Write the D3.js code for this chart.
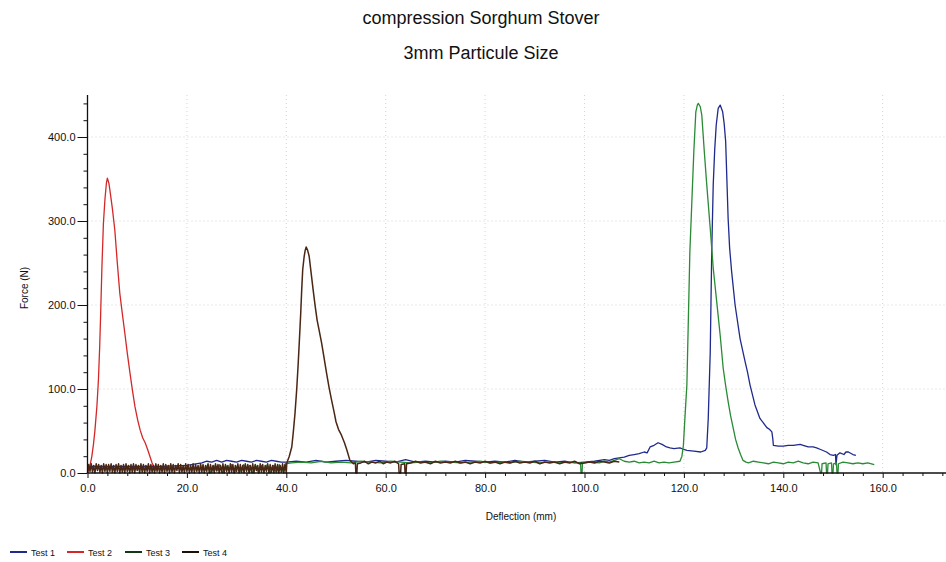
<!DOCTYPE html>
<html><head><meta charset="utf-8">
<script src="https://cdn.jsdelivr.net/npm/d3@7"></script>
<style>
html,body{margin:0;padding:0;background:#fff;}
svg{display:block;font-family:"Liberation Sans",Arial,sans-serif;}
</style></head>
<body>
<svg id="chart" width="946" height="562"></svg>
<script>
const titleLines = ["compression Sorghum Stover", "3mm Particule Size"];
const xLabel = "Deflection (mm)";
const yLabel = "Force (N)";
const seriesNames = ["Test 1", "Test 2", "Test 3", "Test 4"];
const xMajorTicks = [0, 20, 40, 60, 80, 100, 120, 140, 160];
const yMajorTicks = [0, 100, 200, 300, 400];

// Test 1 (deflection mm, force N)
const test1 = [[0,8],[5,8],[10,8],[15,8],[20,9],[23,12],[24,14],[25,13],[26,15],[27,13],[28,15],[29,14],[30,13],[31,15],[32,14],[33,13],[34,15],[35,14],[36,13],[37,15],[38,14],[39,13],[40,13],[42,14],[44,13],[46,15],[48,13],[50,14],[52,15],[54,14],[56,13],[58,15],[60,14],[62,13],[64,16],[66,13],[68,14],[70,13],[72,14],[74,13],[76,15],[78,14],[80,13],[82,14],[84,13],[86,15],[88,13],[90,14],[92,15],[94,13],[96,14],[98,12],[100,13],[102,14],[103,15],[104,16],[105,15],[106,17],[107,18],[108,19],[109,21],[110,22],[111,23],[112,25],[112.6,24],[113.2,31],[114,33],[114.8,36],[115.6,34],[116.5,31],[117.2,30],[118,29],[119.2,30],[120,28],[120.6,27],[122,26],[123.4,25],[124.3,27],[124.6,30],[124.9,65],[125.3,144],[125.6,263],[125.9,343],[126.2,385],[126.5,414],[126.9,434],[127.3,438],[127.8,430],[128.1,416],[128.4,395],[128.7,340],[128.9,303],[129.2,268],[129.6,240],[130.3,200],[131.3,160],[132.3,133],[132.8,120],[133.3,105],[134.3,81],[135.3,65],[136.7,54],[137.2,52],[137.7,49],[137.9,40],[138.0,33],[139,32],[140,32],[141,33],[142,33],[143.4,34],[144,33],[145,31],[146,31],[146.7,30],[147.5,28],[148.7,25],[149.4,22],[150.1,21],[150.5,22],[150.6,10],[150.8,21],[151.4,24],[152.2,22],[152.6,25],[153.1,25],[154,22],[154.6,21]];

// Test 2
const test2 = [[0,0],[0.4,6],[0.85,19],[1.2,34],[1.5,51],[1.9,80],[2.2,111],[2.45,150],[2.65,190],[2.9,245],[3.2,297],[3.5,325],[3.8,345],[4.0,351],[4.3,345],[4.5,337],[5.0,315],[5.5,289],[6.0,250],[6.5,214],[7.0,190],[7.5,167],[8.0,143],[8.55,119],[9.05,98],[9.55,79],[10.1,63],[10.6,51],[11.1,42],[11.6,36],[12.1,28],[12.6,19],[13.0,12],[13.4,7],[13.7,3]];

// Test 3
const test3 = [[23,9],[23.6,3],[24.2,10],[24.8,0],[25.4,9],[26,2],[26.6,10],[27.2,0],[27.8,9],[28.4,3],[29,10],[29.6,0],[30.2,9],[30.8,2],[31.4,10],[32,4],[32.6,9],[33.2,0],[33.8,10],[34.4,0],[35,9],[35.6,3],[36.2,10],[36.8,0],[37.4,9],[38,0],[38.6,10],[39.2,2],[39.8,11],[41,12],[43,13],[45,12],[47,14],[49,12],[51,13],[53,12],[55,14],[57,13],[59,12],[61,14],[63,13],[65,12],[67,13],[69,12],[71,14],[73,13],[75,12],[77,13],[79,14],[81,12],[83,13],[85,12],[87,14],[89,13],[91,12],[93,13],[95,12],[97,13],[99.2,12],[99.3,0],[99.5,0],[99.6,12],[101,13],[103,12],[104,14],[105,13],[106,15],[107,17],[108,14],[109,13],[110,14],[111,12],[112,13],[113,12],[114,14],[115,12],[116,13],[117,12],[118,13],[119.2,14],[119.6,20],[119.9,33],[120.2,65],[120.6,105],[120.9,184],[121.2,263],[121.6,323],[122.0,383],[122.4,430],[122.7,438],[122.9,440],[123.3,436],[123.6,426],[124.1,383],[124.6,343],[125.3,291],[125.9,244],[126.6,204],[127.3,164],[127.9,125],[128.4,104],[128.9,85],[129.4,68],[129.9,54],[130.4,40],[130.9,30],[131.4,22],[131.9,15],[132.5,13],[133,12],[134,14],[135,13],[136,12],[137,11],[138,13],[139,12],[140,11],[141,13],[142,12],[143,14],[144,12],[145,11],[146,13],[147,12],[147.5,0],[147.7,0],[147.8,11],[148.6,12],[148.7,0],[148.9,0],[149,11],[149.7,12],[149.8,0],[150,0],[150.1,11],[150.7,12],[150.8,0],[151,0],[151.1,11],[152,13],[153,12],[154,11],[155,12],[156,11],[157,12],[158.3,10]];

// Test 4
const test4 = [[0,0],[0.25,10],[0.5,2],[0.75,11],[1,1],[1.25,9],[1.5,0],[1.75,11],[2,3],[2.25,10],[2.5,1],[2.75,9],[3,0],[3.25,11],[3.5,2],[3.75,10],
[4,0],[4.25,10],[4.5,2],[4.75,11],[5,1],[5.25,9],[5.5,0],[5.75,10],[6,2],[6.25,11],[6.5,0],[6.75,9],[7,1],[7.25,10],[7.5,0],[7.75,11],
[8,2],[8.25,9],[8.5,0],[8.75,10],[9,1],[9.25,11],[9.5,0],[9.75,10],[10,3],[10.25,9],[10.5,0],[10.75,11],[11,1],[11.25,10],[11.5,0],[11.75,9],
[12,2],[12.25,11],[12.5,0],[12.75,10],[13,1],[13.25,9],[13.5,0],[13.75,11],[14,2],[14.25,10],[14.5,0],[14.75,9],[15,1],[15.25,11],[15.5,0],[15.75,10],
[16,2],[16.25,9],[16.5,0],[16.75,11],[17,1],[17.25,10],[17.5,0],[17.75,9],[18,3],[18.25,11],[18.5,0],[18.75,10],[19,1],[19.25,9],[19.5,0],[19.75,11],
[20,2],[20.25,10],[20.5,0],[20.75,9],[21,1],[21.25,11],[21.5,0],[21.75,10],[22,2],[22.25,9],[22.5,0],[22.75,11],[23,1],[23.25,10],[23.5,0],[23.75,9],
[24,2],[24.25,11],[24.5,0],[24.75,10],[25,1],[25.25,9],[25.5,0],[25.75,11],[26,3],[26.25,10],[26.5,0],[26.75,9],[27,1],[27.25,11],[27.5,0],[27.75,10],
[28,2],[28.25,9],[28.5,0],[28.75,11],[29,1],[29.25,10],[29.5,0],[29.75,9],[30,2],[30.25,11],[30.5,0],[30.75,10],[31,1],[31.25,9],[31.5,0],[31.75,11],
[32,2],[32.25,10],[32.5,0],[32.75,9],[33,1],[33.25,11],[33.5,0],[33.75,10],[34,3],[34.25,9],[34.5,0],[34.75,11],[35,1],[35.25,10],[35.5,0],[35.75,9],
[36,2],[36.25,11],[36.5,0],[36.75,10],[37,1],[37.25,9],[37.5,0],[37.75,11],[38,2],[38.25,10],[38.5,0],[38.75,9],[39,1],[39.25,11],[39.5,0],[39.75,10],
[40,0],[40.1,12],[40.6,20],[41.1,31],[41.4,48],[41.75,71],[42.1,100],[42.4,131],[42.65,160],[42.9,190],[43.1,218],[43.3,242],[43.6,258],[43.8,265],[44.0,269],[44.3,265],[44.6,258],[45.0,238],[45.4,218],[45.8,199],[46.2,182],[46.6,170],[47.1,155],[47.6,137],[48.1,119],[48.6,102],[49.1,87],[49.6,73],[50.0,61],[50.5,52],[51.1,45],[51.7,36],[52.2,27],[52.8,15],[53.5,11],[53.9,12],[54.0,0],[54.2,0],[54.3,11],[55,12],[55.7,14],[56.5,11],[57.2,13],[58,12],[58.8,14],[59.5,11],[60.2,13],[61,12],[61.8,14],[62.6,11],[62.7,0],[63.0,0],[63.1,10],[63.8,11],[63.9,0],[64.1,0],[64.2,11],[65,12],[66,14],[67,12],[68,13],[69,11],[70,14],[71,12],[72,13],[73,12],[74,14],[75,12],[76,13],[77,11],[78,13],[79,12],[80,14],[81,12],[82,13],[83,11],[84,13],[85,12],[86,14],[87,12],[88,13],[89,12],[90,14],[91,11],[92,13],[93,12],[94,13],[95,11],[96,13],[97,12],[98,14],[99,11],[100,12],[101,13],[102,12],[103,14],[104,13],[105,12],[106,14],[107,13]];

const seriesData = [test1, test2, test3, test4];
const seriesColors = ["#1f2a8c", "#d42828", "#2a8a35", "#4a2614"];

const svg = d3.select("#chart");
const x = d3.scaleLinear().domain([0, 160]).range([87.5, 882.7]);
const y = d3.scaleLinear().domain([0, 400]).range([473, 137]);
const xEnd = 946, yTop = y(450);
const xMax = x.invert(xEnd);

// titles
svg.selectAll("text.title").data(titleLines).join("text")
  .attr("class","title").attr("x", 481).attr("y", (d,i)=> 24 + i*35)
  .attr("text-anchor","middle").attr("font-size", 18).attr("fill","#111").text(d=>d);

// grid
const grid = svg.append("g");
grid.selectAll("line.v").data(xMajorTicks.filter(d=>d>0)).join("line")
  .attr("x1", d=>x(d)).attr("x2", d=>x(d)).attr("y1", yTop).attr("y2", y(0))
  .attr("stroke","#d4d4d4").attr("stroke-dasharray","1,3").attr("stroke-width",1);
grid.selectAll("line.h").data(yMajorTicks.filter(d=>d>0)).join("line")
  .attr("y1", d=>y(d)).attr("y2", d=>y(d)).attr("x1", x(0)).attr("x2", xEnd)
  .attr("stroke","#d4d4d4").attr("stroke-dasharray","1,3").attr("stroke-width",1);

// lines
const line = d3.line().x(d=>x(d[0])).y(d=>y(d[1]));
const lineG = svg.append("g");
seriesData.forEach((s,i)=>{
  lineG.append("path").datum(s).attr("d", line).attr("fill","none")
    .attr("stroke", seriesColors[i]).attr("stroke-width", i===3 ? 1.5 : 1.3)
    .attr("stroke-linejoin","round");
});

// x axis
const xMinor = d3.range(0, xMax, 4).filter(v => v % 20 !== 0);
const xAxisG = svg.append("g").attr("transform", `translate(0,${y(0)})`);
xAxisG.append("line").attr("x1", x(0)).attr("x2", xEnd).attr("stroke","#111").attr("stroke-width",1.3);
xAxisG.call(g => g.append("g").call(d3.axisBottom(x).tickValues(xMinor).tickSize(3).tickFormat(""))
  .call(a=>a.select(".domain").remove()));
xAxisG.call(g => g.append("g").call(d3.axisBottom(x).tickValues(xMajorTicks).tickSize(5).tickPadding(6).tickFormat(d3.format(".1f")))
  .call(a=>a.select(".domain").remove())
  .call(a=>a.selectAll("text").attr("font-size", 11).attr("fill","#111").attr("font-family","Liberation Sans, Arial, sans-serif")));
xAxisG.selectAll("line").attr("stroke","#111");

// y axis
const yMinor = d3.range(0, 450, 20).filter(v => v % 100 !== 0);
const yAxisG = svg.append("g").attr("transform", `translate(${x(0)},0)`);
yAxisG.append("line").attr("y1", yTop).attr("y2", y(0)).attr("stroke","#111").attr("stroke-width",1.3);
yAxisG.append("g").call(d3.axisLeft(y).tickValues(yMinor).tickSize(4).tickFormat(""))
  .call(a=>a.select(".domain").remove());
yAxisG.append("g").call(d3.axisLeft(y).tickValues(yMajorTicks).tickSize(10).tickPadding(2).tickFormat(d3.format(".1f")))
  .call(a=>a.select(".domain").remove())
  .call(a=>a.selectAll("text").attr("font-size", 11).attr("fill","#111").attr("font-family","Liberation Sans, Arial, sans-serif"));
yAxisG.selectAll("line").attr("stroke","#111");

// axis labels
svg.append("text").attr("x", 521).attr("y", 520).attr("text-anchor","middle")
  .attr("font-size", 10).attr("fill","#111").text(xLabel);
svg.append("text").attr("transform", "translate(28,288) rotate(-90)").attr("text-anchor","middle")
  .attr("font-size", 10).attr("fill","#111").text(yLabel);

// legend
const legX = [10, 67, 125, 182];
const leg = svg.append("g");
seriesNames.forEach((n,i)=>{
  const c = i >= 2 ? d3.color(seriesColors[i]).darker(2.5) : seriesColors[i];
  leg.append("line").attr("x1", legX[i]).attr("x2", legX[i]+17).attr("y1", 552).attr("y2", 552)
    .attr("stroke", c).attr("stroke-width", 2);
  leg.append("text").attr("x", legX[i]+21).attr("y", 555.5).attr("font-size", 9)
    .attr("fill","#111").text(n);
});
</script>
</body></html>
